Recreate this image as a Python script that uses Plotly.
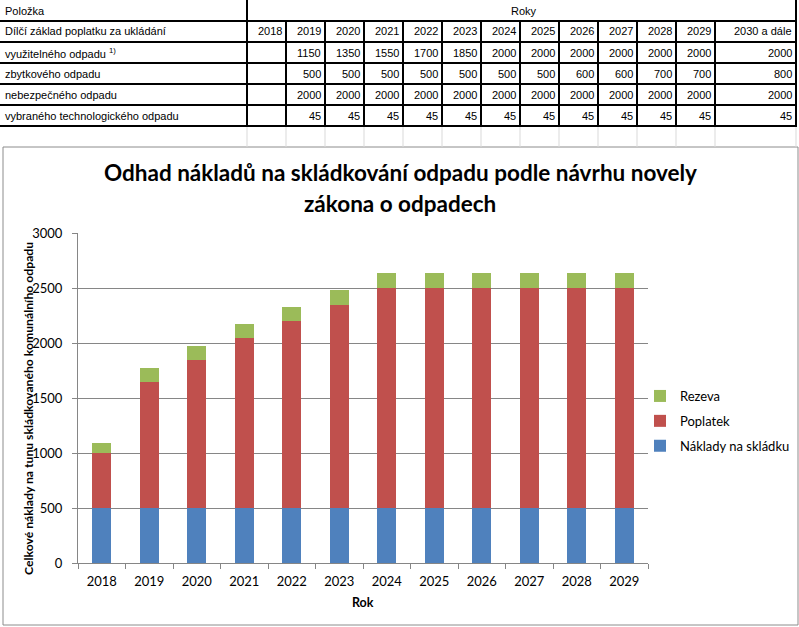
import plotly.graph_objects as go

# ---------------- data ----------------
years = ["2018", "2019", "2020", "2021", "2022", "2023", "2024", "2025", "2026", "2027", "2028", "2029"]
naklady = [500, 500, 500, 500, 500, 500, 500, 500, 500, 500, 500, 500]
poplatek = [500, 1150, 1350, 1550, 1700, 1850, 2000, 2000, 2000, 2000, 2000, 2000]
rezerva = [95, 125, 125, 125, 130, 130, 135, 135, 135, 135, 135, 135]
series_names = ["Náklady na skládku", "Poplatek", "Rezeva"]

table_years = ["2018", "2019", "2020", "2021", "2022", "2023", "2024", "2025", "2026", "2027", "2028", "2029", "2030 a dále"]
row_labels = ["využitelného odpadu <sup>1)</sup>", "zbytkového odpadu", "nebezpečného odpadu", "vybraného technologického odpadu"]
row_vyuzitelny = ["", "1150", "1350", "1550", "1700", "1850", "2000", "2000", "2000", "2000", "2000", "2000", "2000"]
row_zbytkovy = ["", "500", "500", "500", "500", "500", "500", "500", "600", "600", "700", "700", "800"]
row_nebezpecny = ["", "2000", "2000", "2000", "2000", "2000", "2000", "2000", "2000", "2000", "2000", "2000", "2000"]
row_technolog = ["", "45", "45", "45", "45", "45", "45", "45", "45", "45", "45", "45", "45"]
header_left = "Položka"
header_right = "Roky"
sub_header = "Dílčí základ poplatku za ukládání"

chart_title_1 = "Odhad nákladů na skládkování odpadu podle návrhu novely"
chart_title_2 = "zákona o odpadech"
y_title = "Celkové náklady na tunu skládkovaného komunálního odpadu"
x_title = "Rok"

# ---------------- layout helpers (pixel -> paper) ----------------
W, H = 799, 627
def px(x):
    return x / W
def py(y):
    return 1 - y / H

colors = ["#4F81BD", "#C0504D", "#9BBB59"]
values = [naklady, poplatek, rezerva]
legend_ranks = [3, 2, 1]

fig = go.Figure()
for i, (name, vals) in enumerate(zip(series_names, values)):
    fig.add_trace(go.Bar(x=years, y=vals, name=name, marker_color=colors[i],
                         marker_line_width=0, legendgroup=name, legendrank=legend_ranks[i]))

# table geometry
col_edges = [247, 286, 325, 364, 403, 442, 481, 520, 559, 598, 637, 676, 715, 796]
row_edges = [0, 21, 42, 63, 84, 105, 126]
table_font = dict(family="Liberation Sans, Arial", size=11, color="black")

shapes = []
annotations = []

# thick horizontal lines
for ry in row_edges[1:]:
    shapes.append(dict(type="line", xref="paper", yref="paper", x0=0, x1=px(col_edges[-1] + 1),
                       y0=py(ry), y1=py(ry), line=dict(color="black", width=2)))
# first column divider and right edge (full height)
for cx in [col_edges[0], col_edges[-1]]:
    shapes.append(dict(type="line", xref="paper", yref="paper", x0=px(cx), x1=px(cx),
                       y0=py(0), y1=py(row_edges[-1]), line=dict(color="black", width=2)))
# year column dividers (below header row)
for cx in col_edges[1:-1]:
    shapes.append(dict(type="line", xref="paper", yref="paper", x0=px(cx), x1=px(cx),
                       y0=py(row_edges[1]), y1=py(row_edges[-1]), line=dict(color="black", width=2)))
# faint spreadsheet gridlines in empty row
for cx in col_edges:
    shapes.append(dict(type="line", xref="paper", yref="paper", x0=px(cx), x1=px(cx),
                       y0=py(127), y1=py(147), line=dict(color="#d9d9d9", width=1)))

# header texts
annotations.append(dict(text=header_left, x=px(3), y=py(10.5), xref="paper", yref="paper",
                        xanchor="left", yanchor="middle", showarrow=False, font=table_font))
annotations.append(dict(text=header_right, x=px(524), y=py(10.5),
                        xref="paper", yref="paper", xanchor="center", yanchor="middle",
                        showarrow=False, font=table_font))
annotations.append(dict(text=sub_header, x=px(3), y=py(31.5), xref="paper", yref="paper",
                        xanchor="left", yanchor="middle", showarrow=False, font=table_font))
for j, ty in enumerate(table_years):
    annotations.append(dict(text=ty, x=px(col_edges[j + 1] - 2), y=py(31.5), xref="paper", yref="paper",
                            xanchor="right", yanchor="middle", showarrow=False, font=table_font))

rows = [row_vyuzitelny, row_zbytkovy, row_nebezpecny, row_technolog]
for r, (label, vals) in enumerate(zip(row_labels, rows)):
    yc = (row_edges[r + 2] + row_edges[r + 3]) / 2
    annotations.append(dict(text=label, x=px(3), y=py(yc), xref="paper", yref="paper",
                            xanchor="left", yanchor="middle", showarrow=False, font=table_font))
    for j, v in enumerate(vals):
        if v:
            annotations.append(dict(text=v, x=px(col_edges[j + 1] - 2), y=py(yc), xref="paper", yref="paper",
                                    xanchor="right", yanchor="middle", showarrow=False, font=table_font))

# chart frame
shapes.append(dict(type="rect", xref="paper", yref="paper", x0=px(3), x1=px(798), y0=py(147), y1=py(625),
                   line=dict(color="#8c8c8c", width=1), fillcolor="rgba(0,0,0,0)", layer="below"))

chart_font = "Lato, Calibri, sans-serif"
annotations.append(dict(text="<b>" + chart_title_1 + "</b>", x=px(400), y=py(172), xref="paper", yref="paper",
                        xanchor="center", yanchor="middle", showarrow=False,
                        font=dict(family=chart_font, size=22.5, color="black")))
annotations.append(dict(text="<b>" + chart_title_2 + "</b>", x=px(400), y=py(203), xref="paper", yref="paper",
                        xanchor="center", yanchor="middle", showarrow=False,
                        font=dict(family=chart_font, size=22.5, color="black")))
annotations.append(dict(text="<b>" + y_title + "</b>", x=px(28), y=py(409), xref="paper", yref="paper",
                        xanchor="center", yanchor="middle", showarrow=False, textangle=-90,
                        font=dict(family=chart_font, size=12.2, color="black")))
annotations.append(dict(text="<b>" + x_title + "</b>", x=px(363), y=py(602), xref="paper", yref="paper",
                        xanchor="center", yanchor="middle", showarrow=False,
                        font=dict(family=chart_font, size=12.5, color="black")))

fig.update_layout(
    width=W, height=H,
    margin=dict(l=0, r=0, t=0, b=0),
    paper_bgcolor="white", plot_bgcolor="white",
    barmode="stack", bargap=0.6,
    showlegend=True,
    legend=dict(x=px(640), y=py(421), xanchor="left", yanchor="middle", traceorder="grouped",
                tracegroupgap=5, font=dict(family=chart_font, size=13, color="black"),
                bgcolor="rgba(0,0,0,0)"),
    shapes=shapes,
    annotations=annotations,
    xaxis=dict(domain=[px(78), px(648)], automargin=False, showline=True, linecolor="#868686", linewidth=1,
               ticks="outside", tickson="boundaries", ticklen=5, tickcolor="#868686",
               tickfont=dict(family=chart_font, size=13, color="black"), showgrid=False,
               ticklabelstandoff=6),
    yaxis=dict(domain=[py(563), py(233)], automargin=False, range=[0, 3000], dtick=500,
               showline=True, linecolor="#868686", linewidth=1, ticks="outside", ticklen=5,
               tickcolor="#868686", gridcolor="#868686", gridwidth=1, zeroline=False,
               tickfont=dict(family=chart_font, size=13, color="black"), ticklabelstandoff=7),
)

fig.write_html("out.html")
